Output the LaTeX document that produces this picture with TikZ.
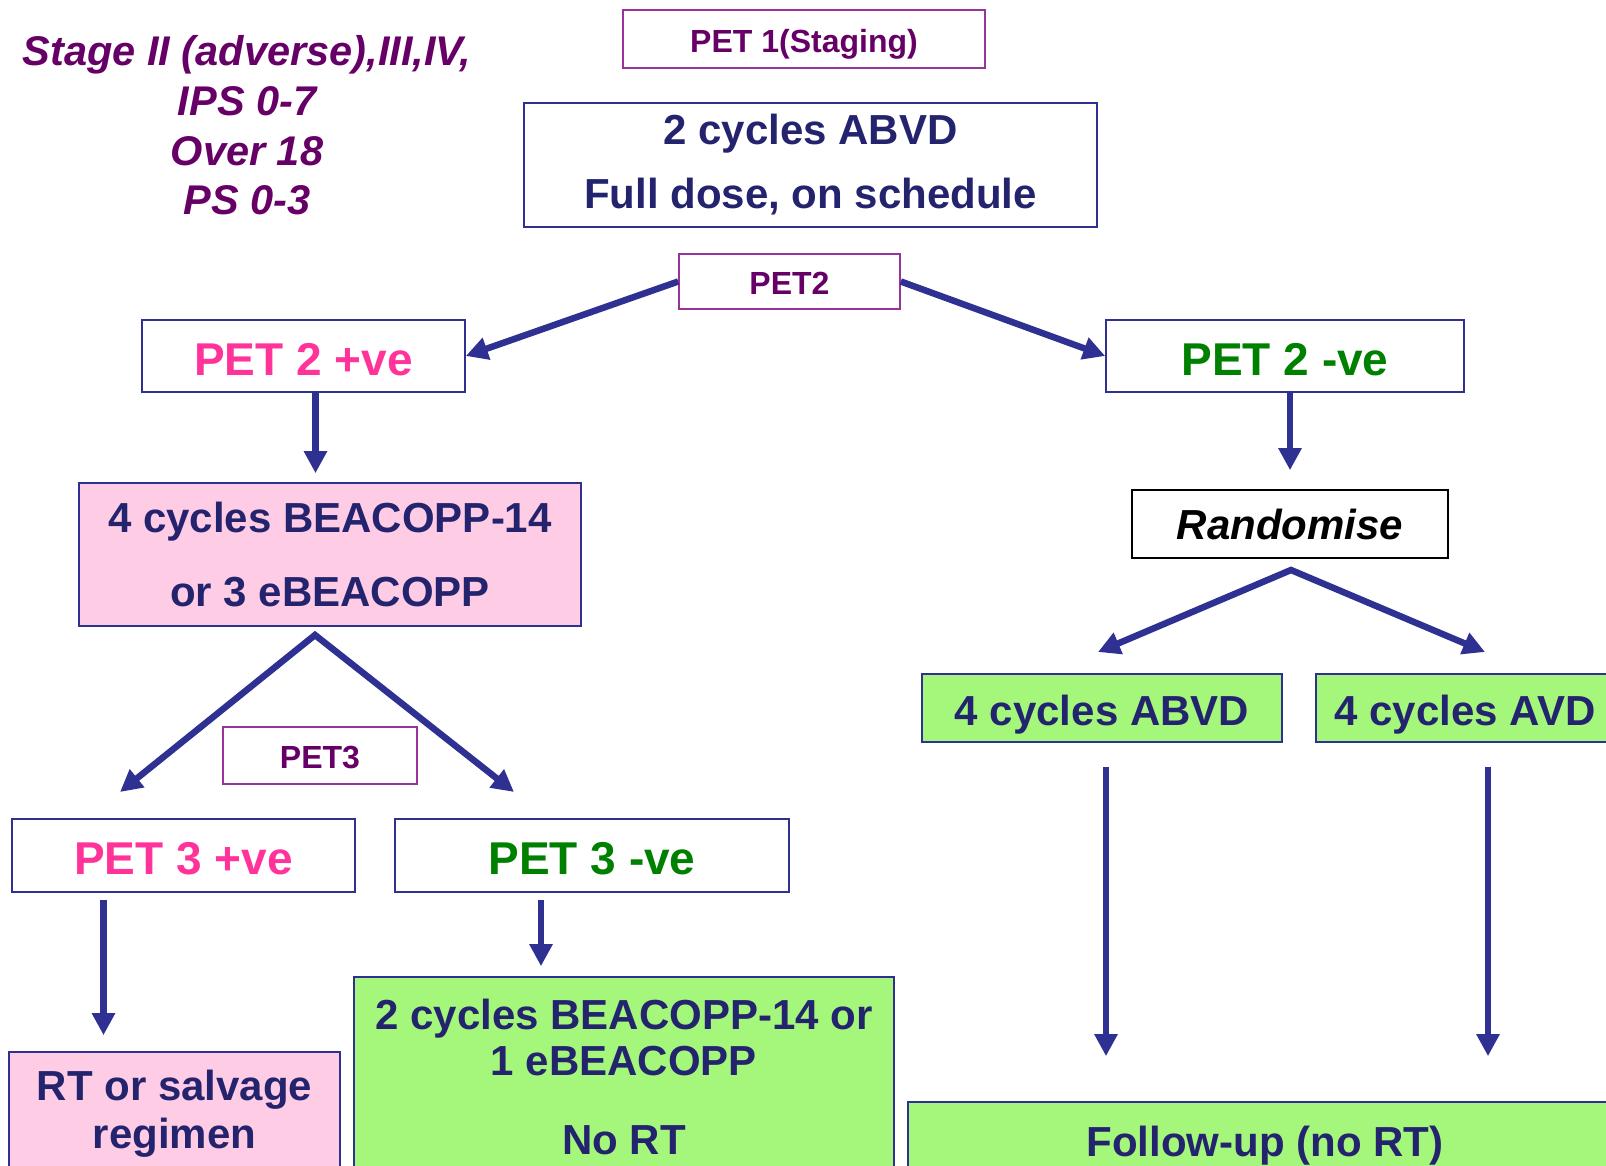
\documentclass[tikz,border=0pt]{standalone}
\usepackage{fontspec}
\setmainfont{Liberation Sans}
\usetikzlibrary{arrows.meta}
\definecolor{arrowblue}{HTML}{2E3192}
\definecolor{textnavy}{HTML}{24246E}
\definecolor{stagepurple}{HTML}{660066}
\definecolor{labelpurple}{HTML}{993399}
\definecolor{posepink}{HTML}{FF3399}
\definecolor{neggreen}{HTML}{008000}
\definecolor{pinkfill}{HTML}{FFCCE5}
\definecolor{greenfill}{HTML}{A4F77B}
\begin{document}
\begin{tikzpicture}[x=1pt,y=-1pt,
box/.style={draw=arrowblue,line width=1.6pt,inner sep=0pt,align=center,text=textnavy,font=\fontsize{42}{64}\selectfont\bfseries},
oneline/.style={text height=#1,text depth=0pt},
petlabel/.style={draw=labelpurple,line width=1.6pt,inner sep=0pt,text=stagepurple,font=\fontsize{32}{38}\selectfont\bfseries,oneline=26.9pt},
result/.style={box,font=\fontsize{46}{54}\selectfont\bfseries,oneline=38.6pt},
flow/.style={draw=arrowblue,line width=6.5pt,-{Triangle[length=22pt,width=22pt]}},
fork/.style={flow,{Triangle[length=22pt,width=22pt]}-{Triangle[length=22pt,width=22pt]}}]
\useasboundingbox (0,0) rectangle (1606,1166);
\clip (0,0) rectangle (1606,1166);
\node[align=center,text=stagepurple,font=\fontsize{41.5}{49.7}\selectfont\bfseries\itshape] (stage) at (247,125.5) {Stage II (adverse),III,IV,\\IPS 0-7\\Over 18\\PS 0-3};
\node[petlabel,minimum width=362,minimum height=58] (pet1) at (804,39) {PET 1(Staging)};
\node[box,minimum width=573,minimum height=124] (abvd2) at (810.5,165) {2 cycles ABVD\\Full dose, on schedule};
\node[petlabel,minimum width=221,minimum height=55] (pet2) at (789.5,281.5) {PET2};
\node[result,text=posepink,minimum width=323,minimum height=72] (petpos) at (303.5,356) {PET 2 +ve};
\node[result,text=neggreen,minimum width=358,minimum height=72] (petneg) at (1285,356) {PET 2 -ve};
\node[box,fill=pinkfill,minimum width=502,minimum height=143,font=\fontsize{42}{74}\selectfont\bfseries] (beacopp) at (330,554.5) {4 cycles BEACOPP-14\\or 3 eBEACOPP};
\node[box,draw=black,text=black,minimum width=316,minimum height=68,font=\fontsize{42}{50}\selectfont\bfseries\itshape] (rand) at (1290,524) {Randomise};
\node[box,fill=greenfill,oneline=35.3pt,minimum width=360,minimum height=68] (abvd4) at (1102,708) {4 cycles ABVD};
\node[box,fill=greenfill,oneline=35.3pt,minimum width=298,minimum height=68] (avd4) at (1465,708) {4 cycles AVD};
\node[petlabel,minimum width=194,minimum height=57] (pet3) at (320,755.5) {PET3};
\node[result,text=posepink,minimum width=343,minimum height=73] (pet3pos) at (183.5,855.5) {PET 3 +ve};
\node[result,text=neggreen,minimum width=394,minimum height=73] (pet3neg) at (592,855.5) {PET 3 -ve};
\node[box,fill=pinkfill,minimum width=331,minimum height=124,font=\fontsize{42}{48}\selectfont\bfseries] (rt) at (174.5,1114) {RT or salvage\\regimen};
\node[box,fill=greenfill,minimum width=540,minimum height=199,font=\fontsize{42}{46}\selectfont\bfseries] (beacopp2) at (624,1076.5) {2 cycles BEACOPP-14 or\\1 eBEACOPP\\[33pt]No RT};
\node[box,fill=greenfill,oneline=35.3pt,minimum width=714,minimum height=74] (follow) at (1265,1139) {Follow-up (no RT)};
\coordinate (split3) at (315,635);
\coordinate (topos3) at (120,792);
\coordinate (toneg3) at (514,792);
\coordinate (splitrand) at (1291,570);
\coordinate (toabvd) at (1098,652);
\coordinate (toavd) at (1485,652);
\draw[flow] (pet2.west) -- (petpos.east);
\draw[flow] (pet2.east) -- (petneg.west);
\draw[flow,shorten >=9pt] ([xshift=12pt]petpos.south) -- ([xshift=12pt]petpos.south |- beacopp.north);
\draw[flow,shorten >=19pt] (petneg.south -| rand.north) -- (rand.north);
\draw[fork] (topos3) -- (split3) -- (toneg3);
\draw[fork] (toabvd) -- (splitrand) -- (toavd);
\draw[flow,shorten <=24pt,shorten >=45pt] ([xshift=4pt]abvd4.south) -- ([xshift=4pt]abvd4.south |- follow.north);
\draw[flow,shorten <=24pt,shorten >=45pt] ([xshift=23pt]avd4.south) -- ([xshift=23pt]avd4.south |- follow.north);
\draw[flow,shorten <=7pt,shorten >=16pt] ([xshift=-80pt]pet3pos.south) -- ([xshift=-80pt]pet3pos.south |- rt.north);
\draw[flow,shorten <=7pt,shorten >=10pt] ([xshift=-51pt]pet3neg.south) -- ([xshift=-51pt]pet3neg.south |- beacopp2.north);
\end{tikzpicture}
\end{document}
